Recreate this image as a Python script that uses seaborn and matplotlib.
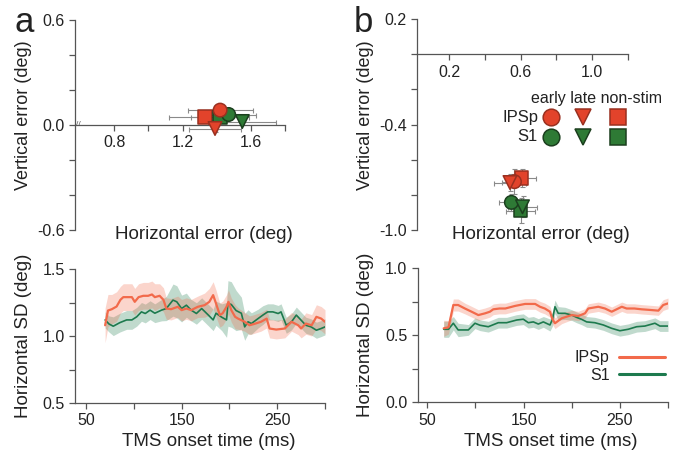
import numpy as np
import pandas as pd
import matplotlib
matplotlib.use("Agg")
import matplotlib.pyplot as plt
from matplotlib.lines import Line2D
from matplotlib.ticker import FixedLocator
import seaborn as sns

# ---------------- data ----------------
sites = ["IPSp", "IPSp", "IPSp", "S1", "S1", "S1"]
timings = ["early", "late", "non-stim", "early", "late", "non-stim"]

# panel a (top): horizontal / vertical error (deg)
a_h = [1.42, 1.39, 1.33, 1.47, 1.55, 1.42]
a_v = [0.085, -0.02, 0.045, 0.06, 0.02, 0.045]
a_herr = [0.19, 0.15, 0.21, 0.16, 0.20, 0.17]
a_verr = [0.02, 0.02, 0.02, 0.02, 0.02, 0.02]

# panel b (top)
b_h = [0.565, 0.54, 0.605, 0.548, 0.61, 0.60]
b_v = [-0.725, -0.73, -0.705, -0.843, -0.868, -0.89]
b_herr = [0.07, 0.09, 0.08, 0.07, 0.08, 0.08]
b_verr = [0.07, 0.05, 0.05, 0.05, 0.06, 0.07]

# panel a (bottom): horizontal SD vs TMS onset time
a_ipsp_t = [70, 73, 77, 82, 86, 89, 94, 98, 101, 105, 110, 115, 119, 122, 127, 131, 134, 139, 146, 150,
            155, 160, 167, 174, 179, 183, 186, 190, 193, 197, 199, 202, 206, 209, 216, 221, 226, 233, 239, 242,
            249, 258, 265, 272, 275, 280, 286, 291, 296, 300]
a_ipsp_sd = [1.08, 1.19, 1.20, 1.22, 1.27, 1.29, 1.29, 1.29, 1.255, 1.29, 1.30, 1.30, 1.31, 1.29, 1.30, 1.27,
             1.205, 1.20, 1.218, 1.193, 1.205, 1.193, 1.218, 1.23, 1.255, 1.305, 1.243, 1.156, 1.17, 1.218,
             1.255, 1.193, 1.143, 1.13, 1.106, 1.08, 1.09, 1.106, 1.13, 1.056, 1.048, 1.056, 1.106, 1.08,
             1.056, 1.093, 1.08, 1.143, 1.13, 1.106]
a_ipsp_err = [0.13, 0.12, 0.11, 0.11, 0.10, 0.10, 0.10, 0.10, 0.10, 0.10, 0.10, 0.10, 0.10, 0.10, 0.09, 0.09,
              0.08, 0.08, 0.08, 0.08, 0.08, 0.08, 0.08, 0.09, 0.10, 0.10, 0.10, 0.09, 0.09, 0.09, 0.09, 0.09,
              0.09, 0.08, 0.07, 0.07, 0.07, 0.07, 0.07, 0.07, 0.07, 0.07, 0.07, 0.07, 0.07, 0.08, 0.08, 0.09,
              0.09, 0.09]
a_s1_t = [70, 74, 78.5, 85.5, 92.5, 98, 103, 108, 112, 117, 122, 129, 134, 141, 145, 150, 155, 160, 165.5, 171,
          178, 183, 186, 192, 197, 198.5, 202, 207, 212.5, 216, 219.5, 223, 230, 235, 240, 245.5, 251, 254,
          259.5, 265, 270, 275, 280, 285.5, 291, 296, 300]
a_s1_sd = [1.12, 1.09, 1.073, 1.10, 1.12, 1.12, 1.143, 1.18, 1.168, 1.193, 1.17, 1.193, 1.205, 1.268, 1.255,
           1.205, 1.23, 1.193, 1.168, 1.205, 1.156, 1.12, 1.17, 1.14, 1.12, 1.243, 1.235, 1.19, 1.17, 1.068,
           1.106, 1.093, 1.13, 1.156, 1.18, 1.18, 1.168, 1.18, 1.08, 1.106, 1.156, 1.118, 1.08, 1.068, 1.043,
           1.056, 1.068]
a_s1_err = [0.06, 0.06, 0.07, 0.07, 0.07, 0.07, 0.07, 0.07, 0.07, 0.07, 0.07, 0.08, 0.09, 0.12, 0.12, 0.10,
            0.09, 0.08, 0.08, 0.08, 0.08, 0.08, 0.09, 0.10, 0.13, 0.17, 0.17, 0.15, 0.12, 0.10, 0.09, 0.08,
            0.07, 0.07, 0.06, 0.06, 0.06, 0.06, 0.06, 0.06, 0.06, 0.06, 0.06, 0.06, 0.06, 0.06, 0.06]

# panel b (bottom)
b_ipsp_t = [67, 72, 77, 82, 89, 96, 103, 110, 115, 118.5, 125, 131, 141, 151.5, 162, 167, 172, 177.4, 180,
            182.6, 189.6, 200, 206.8, 213.8, 217.2, 227.6, 234.5, 241.5, 252, 257, 265, 272.6, 280, 290, 295, 300]
b_ipsp_sd = [0.552, 0.56, 0.726, 0.726, 0.70, 0.676, 0.651, 0.664, 0.676, 0.694, 0.70, 0.70, 0.719, 0.734,
             0.734, 0.713, 0.70, 0.676, 0.62, 0.59, 0.627, 0.651, 0.644, 0.664, 0.70, 0.713, 0.70, 0.676,
             0.713, 0.70, 0.70, 0.694, 0.69, 0.684, 0.726, 0.738]
b_ipsp_err = [0.06, 0.05, 0.045, 0.045, 0.04, 0.04, 0.04, 0.04, 0.04, 0.04, 0.04, 0.04, 0.04, 0.04, 0.04,
              0.04, 0.04, 0.04, 0.04, 0.04, 0.04, 0.035, 0.035, 0.035, 0.035, 0.035, 0.035, 0.035, 0.035,
              0.035, 0.035, 0.035, 0.035, 0.035, 0.04, 0.04]
b_s1_t = [67, 72, 77, 82, 92.6, 99.5, 104.7, 113.3, 123.7, 132.4, 142.8, 149.7, 154.9, 160.1, 165.3, 170.5,
          177.4, 180, 182.6, 186, 193, 200, 205, 210.3, 215.5, 224, 232.8, 241.5, 250, 258.7, 267.4, 276,
          286.4, 291.6, 300]
b_s1_sd = [0.545, 0.545, 0.59, 0.54, 0.54, 0.59, 0.575, 0.564, 0.594, 0.594, 0.614, 0.62, 0.594, 0.60, 0.584,
           0.60, 0.577, 0.62, 0.713, 0.664, 0.664, 0.651, 0.634, 0.619, 0.60, 0.594, 0.577, 0.552, 0.534,
           0.545, 0.564, 0.569, 0.59, 0.569, 0.569]
b_s1_err = [0.06, 0.06, 0.05, 0.05, 0.04, 0.04, 0.04, 0.04, 0.04, 0.04, 0.04, 0.04, 0.04, 0.04, 0.04, 0.04,
            0.045, 0.05, 0.05, 0.05, 0.045, 0.04, 0.04, 0.04, 0.04, 0.04, 0.04, 0.04, 0.04, 0.04, 0.04, 0.04,
            0.04, 0.04, 0.04]

# ---------------- style ----------------
sns.set_theme(style="ticks")
plt.rcParams["font.family"] = ["Liberation Sans", "DejaVu Sans"]
plt.rcParams["axes.unicode_minus"] = False

RED_FILL = "#e2432b"
RED_EDGE = "#9a3020"
GRN_FILL = "#2e7a35"
GRN_EDGE = "#1b3f1e"
RED_LINE = "#f26a4b"
GRN_LINE = "#1d7a4e"
AX_COL = "#555555"
TXT = "#222222"
TICK_FS = 11.5
LAB_FS = 13.5

fill_map = {"IPSp": RED_FILL, "S1": GRN_FILL}
edge_map = {"IPSp": RED_EDGE, "S1": GRN_EDGE}
marker_map = {"early": "o", "late": "v", "non-stim": "s"}

fig = plt.figure(figsize=(6.74, 4.51), dpi=100)
W, H = 674, 451


def px_axes(left, top, right, bottom):
    return fig.add_axes([left / W, 1 - bottom / H, (right - left) / W, (bottom - top) / H])


ax_at = px_axes(75, 20, 285, 230)
ax_bt = px_axes(417, 19, 628, 230)
ax_ab = px_axes(75, 269, 325, 403)
ax_bb = px_axes(417.7, 268.3, 668, 402.3)


def style_axes(ax):
    for s in ["top", "right"]:
        ax.spines[s].set_visible(False)
    for s in ["left", "bottom"]:
        ax.spines[s].set_color(AX_COL)
        ax.spines[s].set_linewidth(0.9)
    ax.tick_params(axis="both", which="both", colors=AX_COL, labelcolor=TXT,
                   labelsize=TICK_FS, width=0.9, length=4, direction="out")


def error_scatter(ax, h, v, herr, verr, order):
    df = pd.DataFrame({"site": sites, "timing": timings, "h": h, "v": v,
                       "herr": herr, "verr": verr})
    df = df.iloc[order].reset_index(drop=True)
    ax.errorbar(df["h"], df["v"], xerr=df["herr"], yerr=df["verr"], fmt="none",
                ecolor="#8a8a8a", elinewidth=0.8, capsize=1.8, capthick=0.8, zorder=2)
    sns.scatterplot(data=df, x="h", y="v", hue="site", style="timing",
                    palette=fill_map, markers=marker_map, s=95, linewidth=1.1,
                    legend=False, ax=ax, zorder=3)
    coll = ax.collections[-1]
    coll.set_edgecolors([edge_map[s] for s in df["site"]])
    coll.set_clip_on(False)


# ---------- top a ----------
ax = ax_at
style_axes(ax)
error_scatter(ax, a_h, a_v, a_herr, a_verr, order=[2, 5, 3, 0, 4, 1])
ax.set_xlim(0.57, 1.8)
ax.set_ylim(-0.6, 0.6)
ax.spines["bottom"].set_position(("data", 0))
ax.xaxis.set_major_locator(FixedLocator([0.8, 1.2, 1.6]))
ax.xaxis.set_minor_locator(FixedLocator([1.0, 1.4, 1.8]))
ax.set_xticklabels(["0.8", "1.2", "1.6"])
ax.yaxis.set_major_locator(FixedLocator([-0.6, 0.0, 0.6]))
ax.yaxis.set_minor_locator(FixedLocator([-0.4, -0.2, 0.2, 0.4]))
ax.set_yticklabels(["-0.6", "0.0", "0.6"])
ax.set_xlabel("")
ax.set_ylabel("Vertical error (deg)", fontsize=13, color=TXT)
ax.yaxis.set_label_coords(-(75 - 23.5) / 210, 0.545)
ax.yaxis.label.set_va("center")
ax.text(0.614, -0.022, "Horizontal error (deg)", transform=ax.transAxes,
        ha="center", va="center", fontsize=LAB_FS, color=TXT)
ax.text(0.018, 0.5, "//", transform=ax.transAxes, ha="center", va="center",
        fontsize=6, color=AX_COL)

# ---------- top b ----------
ax = ax_bt
style_axes(ax)
error_scatter(ax, b_h, b_v, b_herr, b_verr, order=[2, 5, 0, 3, 1, 4])
ax.set_xlim(0.02, 1.2)
ax.set_ylim(-1.0, 0.2)
ax.spines["bottom"].set_position(("data", 0))
ax.xaxis.set_major_locator(FixedLocator([0.2, 0.6, 1.0]))
ax.xaxis.set_minor_locator(FixedLocator([0.4, 0.8, 1.2]))
ax.set_xticklabels(["0.2", "0.6", "1.0"])
ax.yaxis.set_major_locator(FixedLocator([-1.0, -0.4, 0.2]))
ax.yaxis.set_minor_locator(FixedLocator([-0.8, -0.6, -0.2, 0.0]))
ax.set_yticklabels(["-1.0", "-0.4", "0.2"])
ax.set_xlabel("")
ax.set_ylabel("Vertical error (deg)", fontsize=13, color=TXT)
ax.yaxis.set_label_coords(-(417 - 365) / 211, 0.545)
ax.yaxis.label.set_va("center")
ax.text(0.588, -0.022, "Horizontal error (deg)", transform=ax.transAxes,
        ha="center", va="center", fontsize=LAB_FS, color=TXT)

# custom legend (symbol key) in panel b
ax.text((531 - 417) / 211, (230 - 98) / 211, "early late non-stim", transform=ax.transAxes,
        ha="left", va="center", fontsize=11.5, color=TXT)
key_rows = [("IPSp", (230 - 117.3) / 211), ("S1", (230 - 136.7) / 211)]
key_cols = [("early", (551 - 417) / 211), ("late", (583.3 - 417) / 211), ("non-stim", (618.3 - 417) / 211)]
for site, yk in key_rows:
    ax.text((538 - 417) / 211, yk, site, transform=ax.transAxes, ha="right", va="center",
            fontsize=12, color=TXT)
    for tm, xk in key_cols:
        ax.plot([xk], [yk], marker=marker_map[tm], ms=12, mfc=fill_map[site],
                mec=edge_map[site], mew=1.1, transform=ax.transAxes, clip_on=False,
                linestyle="none")


# ---------- bottom panels ----------
def sd_panel(ax, series, xlim, ylim, yticks, yminor, ylabels, ylab_x, xlab_xy):
    style_axes(ax)
    for t, sd, err, col, lw in series:
        t = np.asarray(t, float)
        sd = np.asarray(sd, float)
        err = np.asarray(err, float)
        ax.fill_between(t, sd - err, sd + err, color=col, alpha=0.28, linewidth=0, zorder=1)
        sns.lineplot(x=t, y=sd, color=col, linewidth=lw, ax=ax, zorder=3, estimator=None, sort=False)
    ax.set_xlim(*xlim)
    ax.set_ylim(*ylim)
    ax.xaxis.set_major_locator(FixedLocator([50, 150, 250]))
    ax.xaxis.set_minor_locator(FixedLocator([100, 200, 300]))
    ax.set_xticklabels(["50", "150", "250"])
    ax.yaxis.set_major_locator(FixedLocator(yticks))
    ax.yaxis.set_minor_locator(FixedLocator(yminor))
    ax.set_yticklabels(ylabels)
    ax.set_xlabel("TMS onset time (ms)", fontsize=LAB_FS, color=TXT)
    ax.xaxis.set_label_coords(*xlab_xy)
    ax.xaxis.label.set_va("center")
    ax.set_ylabel("Horizontal SD (deg)", fontsize=LAB_FS, color=TXT)
    ax.yaxis.set_label_coords(ylab_x, 0.5)
    ax.yaxis.label.set_va("center")


sd_panel(ax_ab,
         [(a_s1_t, a_s1_sd, a_s1_err, GRN_LINE, 1.2), (a_ipsp_t, a_ipsp_sd, a_ipsp_err, RED_LINE, 1.6)],
         (38.5, 300), (0.5, 1.5), [0.5, 1.0, 1.5], [0.75, 1.25], ["0.5", "1.0", "1.5"],
         -(75 - 23.5) / 250, (0.536, -0.284))
sd_panel(ax_bb,
         [(b_s1_t, b_s1_sd, b_s1_err, GRN_LINE, 1.2), (b_ipsp_t, b_ipsp_sd, b_ipsp_err, RED_LINE, 1.6)],
         (40, 300), (0.0, 1.0), [0.0, 0.5, 1.0], [0.25, 0.75], ["0.0", "0.5", "1.0"],
         -(417.7 - 365) / 250.3, (0.533, -0.293))

handles = [Line2D([0], [0], color=RED_LINE, lw=2.2), Line2D([0], [0], color=GRN_LINE, lw=2.2)]
leg = ax_bb.legend(handles, ["IPSp", "S1"], markerfirst=False, frameon=False, loc="lower right",
                   bbox_to_anchor=(0.99, 0.145), handlelength=2.9, handletextpad=0.6,
                   labelspacing=0.15, borderpad=0, borderaxespad=0, fontsize=11.5)
for t in leg.get_texts():
    t.set_color(TXT)

# panel letters
fig.text(14 / W, 1 - 32 / H, "a", fontsize=25, color=TXT, va="baseline", ha="left")
fig.text(354 / W, 1 - 32 / H, "b", fontsize=25, color=TXT, va="baseline", ha="left")

fig.savefig("out.png", dpi=100)
